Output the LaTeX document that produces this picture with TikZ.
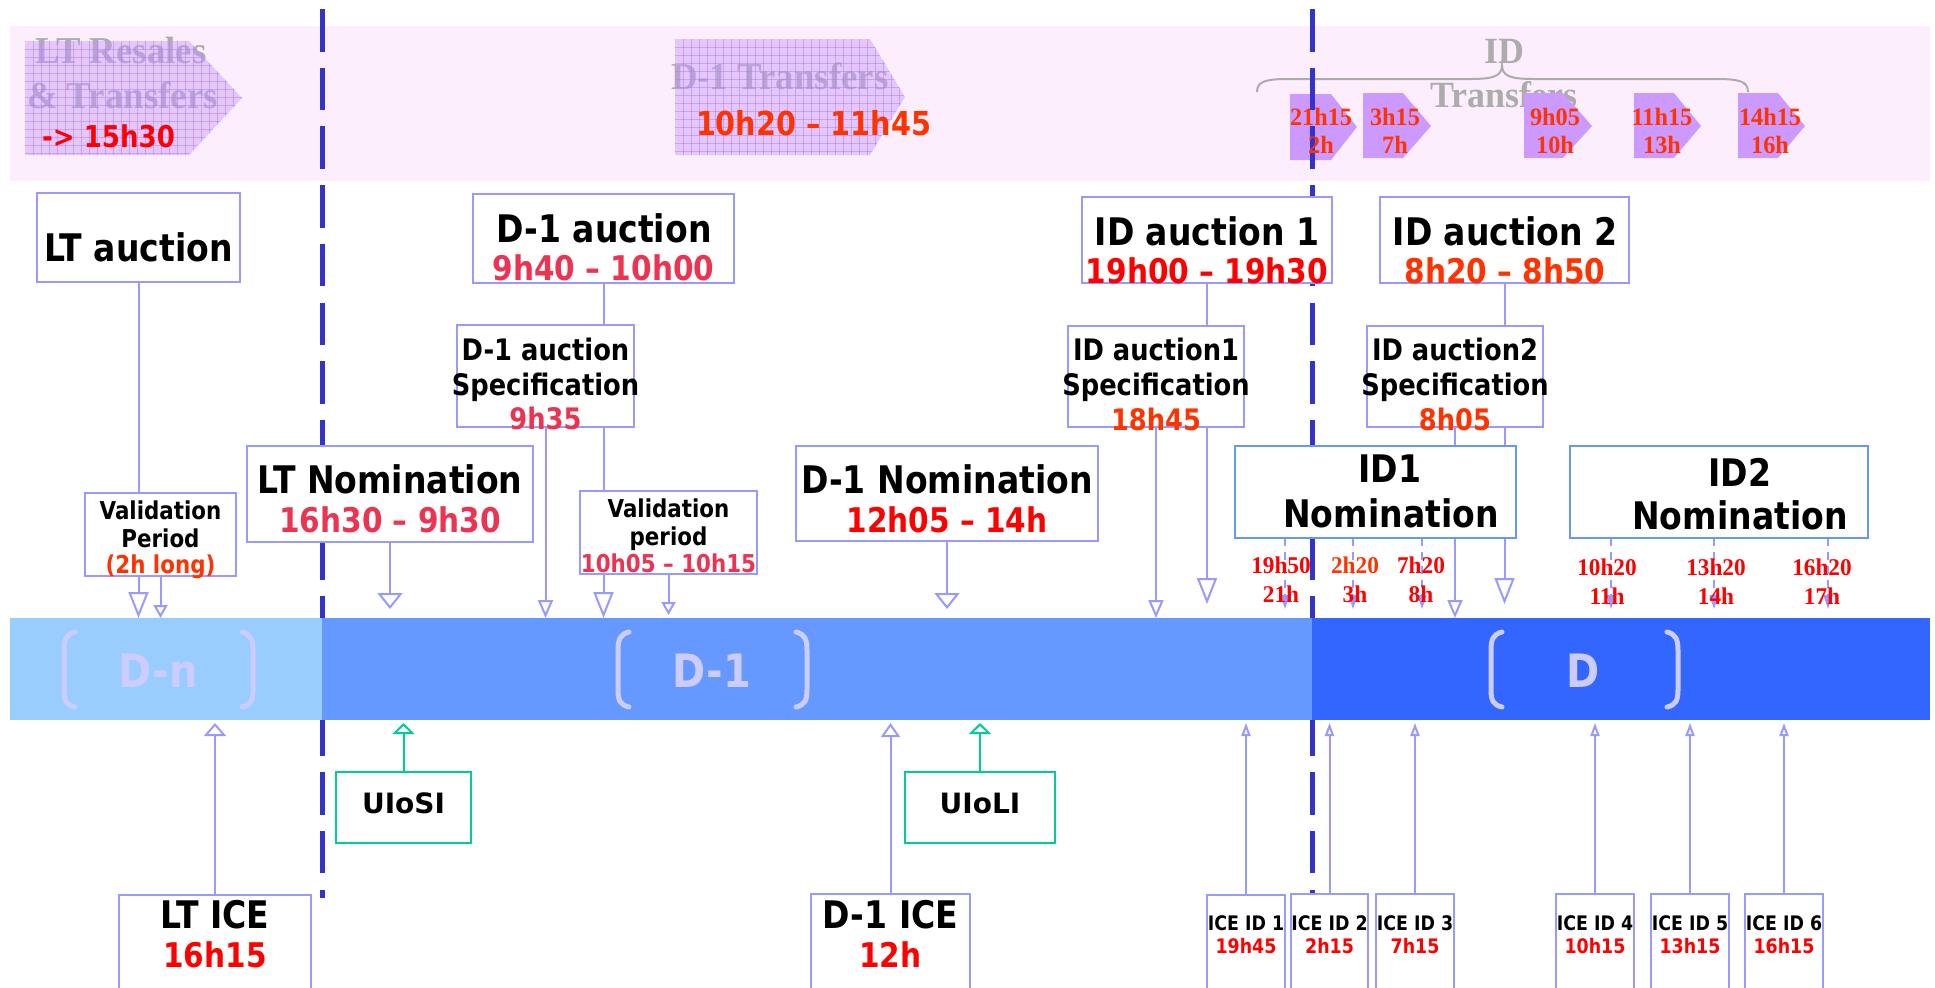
\documentclass[tikz,border=0pt]{standalone}
\usepackage{fontspec}
\usetikzlibrary{arrows.meta}
\setmainfont{DejaVu Sans}
\newfontfamily\tah[FakeStretch=0.87]{DejaVu Sans Bold}
\newfontfamily\tahw{DejaVu Sans Bold}
\newfontfamily\tms[FakeStretch=0.97]{Liberation Serif Bold}
\newcommand\fsz[1]{\fontsize{#1}{#1}\selectfont}
\pgfdeclarelayer{lzero}
\pgfdeclarelayer{lone}
\pgfdeclarelayer{ltwo}
\pgfsetlayers{lzero,lone,ltwo,main}
\definecolor{pinkbg}{RGB}{253,238,253}
\definecolor{lineblue}{RGB}{153,153,255}
\definecolor{nomblue}{RGB}{102,153,238}
\definecolor{dashblue}{RGB}{51,51,204}
\definecolor{greenc}{RGB}{0,204,153}
\definecolor{crimson}{RGB}{236,52,82}
\definecolor{orred}{RGB}{255,51,0}
\definecolor{grayt}{RGB}{172,172,172}
\definecolor{pent}{RGB}{204,153,255}
\definecolor{bandnc}{RGB}{153,204,255}
\definecolor{bandonec}{RGB}{102,153,255}
\definecolor{banddc}{RGB}{51,102,255}
\definecolor{lav}{RGB}{204,204,255}
\tikzset{
  boxs/.style={draw=lineblue, line width=1.1pt, fill=white, inner sep=0pt, outer sep=0pt, anchor=north west},
  nombox/.style={boxs, draw=nomblue},
  gbox/.style={boxs, draw=greenc},
  bandbox/.style={inner sep=0pt, outer sep=0pt, anchor=north west, draw=none},
  conn/.style={draw=lineblue, line width=1pt},
  gconn/.style={draw=greenc, line width=1pt},
  arrbig/.style={conn, -{Triangle[open, length=8pt, width=12.5pt]}},
  arrlong/.style={conn, -{Triangle[open, length=13pt, width=10pt]}},
  arrthin/.style={conn, -{Triangle[open, length=9pt, width=7.5pt]}},
  arrsmall/.style={conn, -{Triangle[open, length=6.5pt, width=7pt]}},
  arrup/.style={conn, -{Triangle[open, length=6.5pt, width=11pt]}},
  arrupd/.style={conn, -{Triangle[open, length=7pt, width=9.5pt]}},
  arrupn/.style={conn, -{Triangle[open, length=6.5pt, width=4.5pt]}},
  garr/.style={gconn, -{Triangle[open, length=5.5pt, width=11pt]}},
  darr/.style={draw=lineblue, line width=0.8pt, dash pattern=on 4pt off 3pt, -{Triangle[length=7pt, width=4.5pt]}},
  gridc/.style={draw=pent!85!blue, line width=0.3pt, opacity=0.55},
  txt/.style={anchor=base, inner sep=0pt, outer sep=0pt},
  hd/.style={txt, font={\tah\fsz{19}}},
  tm/.style={txt, font={\tah\fsz{17}}},
  spc/.style={txt, font={\tah\fsz{14.8}}},
  vl/.style={txt, font={\tah\fsz{12.3}}},
  icet/.style={txt, font={\tah\fsz{10}}},
  uio/.style={txt, font={\tahw\fsz{14}}},
  smr/.style={txt, font={\tms\fsz{12.5}}, text=orred},
  sml/.style={txt, font={\tms\fsz{12}}, text=red},
  gt/.style={txt, font={\tms\fsz{19}}, text=grayt},
  dlab/.style={txt, font={\tah\fsz{23}}, text=lav},
  brk/.style={draw=lav, line width=2.5pt, line cap=round},
  dashl/.style={draw=dashblue, line width=2.5pt, dash pattern=on 21.25pt off 8.1pt}
}
\newcommand\boxat[6]{\node[#2, minimum width={(#5-#3)*0.5pt}, minimum height={(#6-#4)*0.5pt}] (#1) at (#3,#4) {};}
\newcommand\lbl[5]{\node[#2] (#1) at (#3,#4) {#5};}
\newcommand\lbrk[1]{\draw[brk] ({#1+11},632) .. controls ({#1+2},634) and (#1,640) .. (#1,650) -- (#1,690) .. controls (#1,700) and ({#1+2},705) .. ({#1+11},707);}
\newcommand\rbrk[1]{\draw[brk] ({#1-11},632) .. controls ({#1-2},634) and (#1,640) .. (#1,650) -- (#1,690) .. controls (#1,700) and ({#1-2},705) .. ({#1-11},707);}
\begin{document}
\begin{tikzpicture}[x=0.5pt,y=-0.5pt]
\useasboundingbox (0,0) rectangle (1935,987);

% ---------- background band, transfers ----------
\begin{pgfonlayer}{lzero}
\fill[pinkbg] (10,26) rectangle (1930,181);
\node[gt, anchor=base west] (gLTa) at (35,63) {LT Resales};
\node[gt, anchor=base west] (gLTb) at (27,108) {\& Transfers};
\node[gt, anchor=base west] (gD1) at (671,89) {D-1 Transfers};
\node[gt, font={\tms\fsz{18.5}}] (gIDa) at (1504,63) {ID};
\node[gt, font={\tms\fsz{18.5}}] (gIDb) at (1504,107) {Transfers};
\begin{scope}
\clip (25,41) -- (189,41) -- (242,98) -- (189,155) -- (25,155) -- cycle;
\fill[pent, opacity=0.45] (20,35) rectangle (250,160);
\foreach \gx in {33,41,...,249} {\draw[gridc] (\gx,35) -- (\gx,160);}
\foreach \gy in {49,57,...,160} {\draw[gridc] (20,\gy) -- (250,\gy);}
\end{scope}
\begin{scope}
\clip (675,39) -- (870,39) -- (905,97) -- (870,155) -- (675,155) -- cycle;
\fill[pent, opacity=0.45] (670,35) rectangle (910,160);
\foreach \gx in {683,691,...,907} {\draw[gridc] (\gx,35) -- (\gx,160);}
\foreach \gy in {47,55,...,160} {\draw[gridc] (670,\gy) -- (910,\gy);}
\end{scope}
\fill[pent] (1290,94) -- (1331,94) -- (1357,127) -- (1331,160) -- (1290,160) -- cycle;
\fill[pent] (1363,93) -- (1403,93) -- (1431,126) -- (1403,158) -- (1363,158) -- cycle;
\fill[pent] (1524,93) -- (1563,93) -- (1592,126) -- (1563,158) -- (1524,158) -- cycle;
\fill[pent] (1634,93) -- (1674,93) -- (1701,126) -- (1674,158) -- (1634,158) -- cycle;
\fill[pent] (1738,93) -- (1778,93) -- (1805,126) -- (1778,158) -- (1738,158) -- cycle;
\draw[grayt, line width=1pt] (1257,92) .. controls (1257,81) and (1266,79) .. (1290,79) -- (1470,79) .. controls (1494,79) and (1502,76) .. (1502,65) .. controls (1502,76) and (1510,79) .. (1534,79) -- (1715,79) .. controls (1739,79) and (1748,81) .. (1748,92);
\end{pgfonlayer}

% ---------- dashed day separators ----------
\begin{pgfonlayer}{lone}
\coordinate (sepAtop) at (322,9);
\coordinate (sepAbot) at (322,898);
\coordinate (sepBtop) at (1312,9);
\coordinate (sepBbot) at (1312,898);
\draw[dashl] (sepAtop) -- (sepAbot);
\draw[dashl] (sepBtop) -- (sepBbot);
\end{pgfonlayer}

% ---------- day band ----------
\node[bandbox, fill=bandnc, minimum width={312*0.5pt}, minimum height={102*0.5pt}] (bandn) at (10,618) {};
\node[bandbox, fill=bandonec, minimum width={990*0.5pt}, minimum height={102*0.5pt}] (band1) at (322,618) {};
\node[bandbox, fill=banddc, minimum width={618*0.5pt}, minimum height={102*0.5pt}] (bandd) at (1312,618) {};
\lbl{lDn}{dlab}{158}{687}{D-n}
\lbl{lD1}{dlab}{712}{687}{D-1}
\lbl{lDd}{dlab}{1583}{687}{D}
\lbrk{64}\rbrk{253}
\lbrk{618}\rbrk{807}
\lbrk{1491}\rbrk{1678}

% ---------- boxes ----------
\boxat{ltauc}{boxs}{37}{193}{240}{282}
\boxat{d1auc}{boxs}{473}{194}{734}{283}
\boxat{d1spec}{boxs}{457}{325}{634}{427}
\boxat{val1}{boxs}{85}{493}{236}{576}
\boxat{val2}{boxs}{580}{491}{757}{574}
\boxat{ltnom}{boxs}{247}{446}{533}{542}
\boxat{d1nom}{boxs}{796}{446}{1098}{541}
\boxat{id1auc}{boxs}{1082}{197}{1332}{283}
\boxat{id2auc}{boxs}{1380}{197}{1629}{283}
\boxat{id1spec}{boxs}{1068}{326}{1244}{427}
\boxat{id2spec}{boxs}{1367}{326}{1543}{427}
\boxat{id1nom}{nombox}{1235}{446}{1516}{538}
\boxat{id2nom}{nombox}{1570}{446}{1868}{538}
\boxat{uiosi}{gbox}{336}{772}{471}{843}
\boxat{uioli}{gbox}{905}{772}{1055}{843}
\boxat{ltice}{boxs}{119}{895}{311}{995}
\boxat{d1ice}{boxs}{811}{894}{970}{995}
\boxat{ice1}{boxs}{1207}{895}{1285}{995}
\boxat{ice2}{boxs}{1291}{894}{1368}{995}
\boxat{ice3}{boxs}{1376}{894}{1454}{995}
\boxat{ice4}{boxs}{1556}{894}{1634}{995}
\boxat{ice5}{boxs}{1651}{894}{1729}{995}
\boxat{ice6}{boxs}{1745}{894}{1823}{995}

% ---------- connectors ----------
\begin{pgfonlayer}{ltwo}
\coordinate (lvA) at (0,609);
\coordinate (lvB) at (0,615);
\coordinate (lvC) at (0,604);
\coordinate (lvU) at (0,723);
\draw[conn] (ltauc.south) -- (ltauc.south |- val1.north);
\draw[arrlong] (ltauc.south |- val1.south) -- (ltauc.south |- bandn.north);
\draw[arrsmall] (val1.south) -- (val1.south |- bandn.north);
\draw[arrbig] (ltnom.south) -- (ltnom.south |- lvA);
\draw[conn] (d1auc.south) -- (d1auc.south |- d1spec.north);
\draw[arrthin] (d1spec.south) -- (d1spec.south |- band1.north);
\draw[conn] (d1auc.south |- d1spec.south) -- (d1auc.south |- val2.north);
\draw[arrlong] (d1auc.south |- val2.south) -- (d1auc.south |- band1.north);
\draw[arrsmall] (val2.south) -- (val2.south |- lvB);
\draw[arrbig] (d1nom.south) -- (d1nom.south |- lvA);
\draw[conn] (id1auc.south) -- (id1auc.south |- id1spec.north);
\draw[arrthin] (id1spec.south) -- (id1spec.south |- band1.north);
\draw[arrlong] (id1auc.south |- id1spec.south) -- (id1auc.south |- lvC);
\draw[conn] (id2auc.south) -- (id2auc.south |- id2spec.north);
\draw[arrthin] (id2spec.south) -- (id2spec.south |- bandd.north);
\draw[arrlong] (id2auc.south |- id2spec.south) -- (id2auc.south |- lvC);
\foreach \n/\x in {1/1285,2/1353,3/1422} {\coordinate (da\n) at (\x,609); \draw[darr] (id1nom.south -| da\n) -- (da\n);}
\foreach \n/\x in {4/1611,5/1714,6/1828} {\coordinate (da\n) at (\x,609); \draw[darr] (id2nom.south -| da\n) -- (da\n);}
\draw[arrup] (ltice.north) -- (ltice.north |- lvU);
\draw[arrupd] (d1ice.north) -- (d1ice.north |- lvU);
\draw[garr] (uiosi.north) -- (uiosi.north |- lvU);
\draw[garr] (uioli.north) -- (uioli.north |- lvU);
\foreach \n in {1,...,6} {\draw[arrupn] (ice\n.north) -- (ice\n.north |- lvU);}
\end{pgfonlayer}

% ---------- texts ----------
\node[txt, anchor=base west, font={\tah\fsz{15}}, text=red] (rLT) at (42,147) {-> 15h30};
\node[txt, anchor=base west, font={\tah\fsz{16.5}}, text=orred] (rD1) at (696,135) {10h20 – 11h45};
\lbl{p1a}{smr}{1321}{125}{21h15}\lbl{p1b}{smr}{1321}{153}{2h}
\lbl{p2a}{smr}{1395}{125}{3h15}\lbl{p2b}{smr}{1395}{153}{7h}
\lbl{p3a}{smr}{1555}{125}{9h05}\lbl{p3b}{smr}{1555}{153}{10h}
\lbl{p4a}{smr}{1662}{125}{11h15}\lbl{p4b}{smr}{1662}{153}{13h}
\lbl{p5a}{smr}{1770}{125}{14h15}\lbl{p5b}{smr}{1770}{153}{16h}

\lbl{tltauc}{hd}{138.5}{261}{LT auction}
\lbl{td1auca}{hd}{604}{242}{D-1 auction}
\lbl{td1aucb}{tm, text=crimson}{603.5}{280}{9h40 – 10h00}
\lbl{td1spa}{spc}{545.5}{360}{D-1 auction}
\lbl{td1spb}{spc}{545.5}{395}{Specification}
\lbl{td1spc}{spc, text=crimson}{545.5}{429}{9h35}
\lbl{tv1a}{vl}{160.5}{519}{Validation}
\lbl{tv1b}{vl}{160.5}{547}{Period}
\lbl{tv1c}{vl, text=orred}{160.5}{573}{(2h long)}
\lbl{tv2a}{vl}{668.5}{517}{Validation}
\lbl{tv2b}{vl}{668.5}{545}{period}
\lbl{tv2c}{vl, text=crimson}{668.5}{572}{10h05 – 10h15}
\lbl{tltnoma}{hd}{390}{493}{LT Nomination}
\lbl{tltnomb}{tm, text=crimson}{390}{532}{16h30 – 9h30}
\lbl{td1noma}{hd}{947}{493}{D-1 Nomination}
\lbl{td1nomb}{tm, text=red}{947}{532}{12h05 – 14h}
\lbl{tid1a}{hd}{1207}{245}{ID auction 1}
\lbl{tid1b}{tm, text=red}{1207}{283}{19h00 – 19h30}
\lbl{tid2a}{hd}{1505}{245}{ID auction 2}
\lbl{tid2b}{tm, text=orred}{1505}{283}{8h20 – 8h50}
\lbl{tis1a}{spc}{1156}{360}{ID auction1}
\lbl{tis1b}{spc}{1156}{395}{Specification}
\lbl{tis1c}{spc, text=orred}{1156}{430}{18h45}
\lbl{tis2a}{spc}{1455}{360}{ID auction2}
\lbl{tis2b}{spc}{1455}{395}{Specification}
\lbl{tis2c}{spc, text=orred}{1455}{430}{8h05}
\lbl{tin1a}{hd}{1390}{482}{ID1}
\lbl{tin1b}{hd}{1391}{527}{Nomination}
\lbl{tin2a}{hd}{1740}{486}{ID2}
\lbl{tin2b}{hd}{1740}{529}{Nomination}
\lbl{s1a}{sml}{1281}{573}{19h50}\lbl{s1b}{sml}{1281}{602}{21h}
\lbl{s2a}{sml, text=orred}{1355}{573}{2h20}\lbl{s2b}{sml}{1355}{602}{3h}
\lbl{s3a}{sml}{1421}{573}{7h20}\lbl{s3b}{sml}{1421}{602}{8h}
\lbl{s4a}{sml}{1607}{575}{10h20}\lbl{s4b}{sml}{1607}{604}{11h}
\lbl{s5a}{sml}{1716}{575}{13h20}\lbl{s5b}{sml}{1716}{604}{14h}
\lbl{s6a}{sml}{1822}{575}{16h20}\lbl{s6b}{sml}{1822}{604}{17h}
\lbl{tuiosi}{uio}{403.5}{813}{UIoSI}
\lbl{tuioli}{uio}{980}{813}{UIoLI}
\lbl{tlticea}{hd}{215}{928}{LT ICE}
\lbl{tlticeb}{tm, text=red}{215}{967}{16h15}
\lbl{td1icea}{hd}{890.5}{928}{D-1 ICE}
\lbl{td1iceb}{tm, text=red}{890.5}{967}{12h}
\lbl{ti1a}{icet}{1246}{930}{ICE ID 1}\lbl{ti1b}{icet, text=red}{1246}{953}{19h45}
\lbl{ti2a}{icet}{1329.5}{930}{ICE ID 2}\lbl{ti2b}{icet, text=red}{1329.5}{953}{2h15}
\lbl{ti3a}{icet}{1415}{930}{ICE ID 3}\lbl{ti3b}{icet, text=red}{1415}{953}{7h15}
\lbl{ti4a}{icet}{1595}{930}{ICE ID 4}\lbl{ti4b}{icet, text=red}{1595}{953}{10h15}
\lbl{ti5a}{icet}{1690}{930}{ICE ID 5}\lbl{ti5b}{icet, text=red}{1690}{953}{13h15}
\lbl{ti6a}{icet}{1784}{930}{ICE ID 6}\lbl{ti6b}{icet, text=red}{1784}{953}{16h15}
\end{tikzpicture}
\end{document}
